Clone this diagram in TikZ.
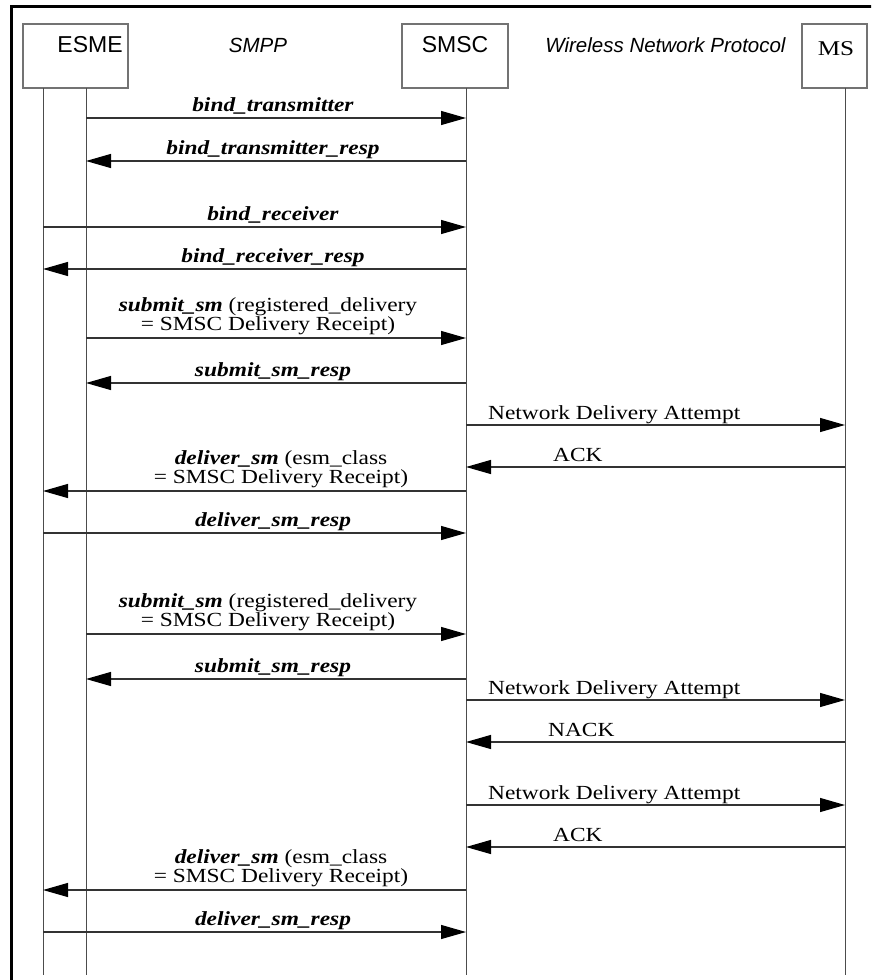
\documentclass[tikz,border=0pt]{standalone}
\usepackage{fontspec}
\usetikzlibrary{arrows.meta}
\newfontfamily\lblfont{Liberation Serif}[FakeStretch=1.17]
\newfontfamily\msfont{Liberation Serif}[FakeStretch=1.2]
\newfontfamily\hdrfont{Liberation Sans}
% one message arrow between two lifelines at height #3
\newcommand\sqmsg[3]{\draw[msg] (#1 |- 0,#3) -- (#2 |- 0,#3);}
\begin{document}
\begin{tikzpicture}[x=1pt,y=-1pt,
  actor/.style={draw=black!55, line width=1.4pt, minimum height=64pt, inner sep=0pt},
  life/.style={draw=black!70, line width=1pt},
  msg/.style={draw=black!80, line width=1.2pt, -{Triangle[length=25pt,width=14pt,fill=black,color=black]}},
  lbl/.style={font=\lblfont\fontsize{20}{22}\selectfont, anchor=base, inner sep=0pt},
  lblw/.style={lbl, anchor=base west},
  hdr/.style={font=\hdrfont\fontsize{23}{25}\selectfont, anchor=base, inner sep=0pt},
  hdri/.style={font=\hdrfont\itshape\fontsize{20.5}{23}\selectfont, anchor=base, inner sep=0pt},
  frame/.style={draw=black, line width=3pt}]
\useasboundingbox (0,0) rectangle (871,980);
\fill[white] (0,0) rectangle (871,980);
\clip (0,0) rectangle (871,980);

% outer frame
\draw[frame] (11,6) rectangle (900,1010);

% participants
\node[actor, minimum width=105pt] (esme) at (75.4,56) {};
\node[actor, minimum width=106pt] (smsc) at (455,56) {};
\node[actor, minimum width=65pt] (ms) at (834.5,56) {};
\node[hdr] (esmeT) at (90,52) {ESME};
\node[hdr] (smscT) at (455,52) {SMSC};
\node[font=\msfont\fontsize{21}{23}\selectfont, anchor=base, inner sep=0pt] (msT) at (836,55) {MS};
\node[hdri] (smpp) at (258,52) {SMPP};
\node[hdri] (wnp) at (665.5,52) {Wireless Network Protocol};

% lifelines
\coordinate (eL) at (43,88);
\coordinate (eR) at (86,88);
\coordinate (sc) at (466,88);
\coordinate (mc) at (845,88);
\coordinate (eLb) at (43,975);
\coordinate (eRb) at (86,975);
\coordinate (scb) at (466,975);
\coordinate (mcb) at (845,975);
\draw[life] (eL) -- (eLb);
\draw[life] (eR) -- (eRb);
\draw[life] (sc) -- (scb);
\draw[life] (mc) -- (mcb);

% bind phase
\sqmsg{eR}{sc}{118}
\node[lbl] (m1) at (273,111) {\textbf{\textit{bind\_transmitter}}};
\sqmsg{sc}{eR}{161}
\node[lbl] (m2) at (273,154) {\textbf{\textit{bind\_transmitter\_resp}}};
\sqmsg{eL}{sc}{227}
\node[lbl] (m3) at (273,220) {\textbf{\textit{bind\_receiver}}};
\sqmsg{sc}{eL}{269}
\node[lbl] (m4) at (273,262) {\textbf{\textit{bind\_receiver\_resp}}};

% first submission, delivered at once
\sqmsg{eR}{sc}{338}
\node[lbl] (m5a) at (268,311) {\textbf{\textit{submit\_sm}} (registered\_delivery};
\node[lbl] (m5b) at (268,330) {= SMSC Delivery Receipt)};
\sqmsg{sc}{eR}{383}
\node[lbl] (m6) at (273,376) {\textbf{\textit{submit\_sm\_resp}}};
\sqmsg{sc}{mc}{425}
\node[lblw] (m7) at (488,419) {Network Delivery Attempt};
\sqmsg{mc}{sc}{467}
\node[lblw] (m8) at (553,461) {ACK};
\sqmsg{sc}{eL}{491}
\node[lbl] (m9a) at (281,464) {\textbf{\textit{deliver\_sm}} (esm\_class};
\node[lbl] (m9b) at (281,483) {= SMSC Delivery Receipt)};
\sqmsg{eL}{sc}{533}
\node[lbl] (m10) at (273,526) {\textbf{\textit{deliver\_sm\_resp}}};

% second submission, delivered after a retry
\sqmsg{eR}{sc}{634}
\node[lbl] (m11a) at (268,607) {\textbf{\textit{submit\_sm}} (registered\_delivery};
\node[lbl] (m11b) at (268,626) {= SMSC Delivery Receipt)};
\sqmsg{sc}{eR}{679}
\node[lbl] (m12) at (273,672) {\textbf{\textit{submit\_sm\_resp}}};
\sqmsg{sc}{mc}{700}
\node[lblw] (m13) at (488,694) {Network Delivery Attempt};
\sqmsg{mc}{sc}{742}
\node[lblw] (m14) at (548,736) {NACK};
\sqmsg{sc}{mc}{805}
\node[lblw] (m15) at (488,799) {Network Delivery Attempt};
\sqmsg{mc}{sc}{847}
\node[lblw] (m16) at (553,841) {ACK};
\sqmsg{sc}{eL}{890}
\node[lbl] (m17a) at (281,863) {\textbf{\textit{deliver\_sm}} (esm\_class};
\node[lbl] (m17b) at (281,882) {= SMSC Delivery Receipt)};
\sqmsg{eL}{sc}{932}
\node[lbl] (m18) at (273,925) {\textbf{\textit{deliver\_sm\_resp}}};
\end{tikzpicture}
\end{document}
